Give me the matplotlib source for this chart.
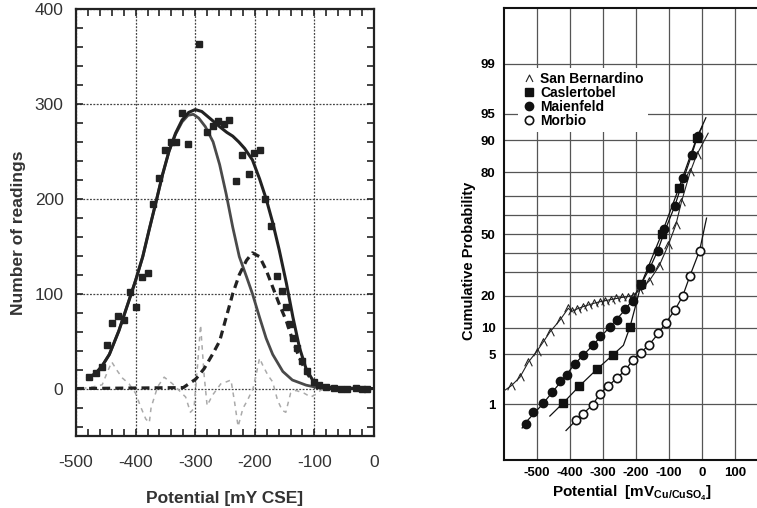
from statistics import NormalDist

import numpy as np
import matplotlib
matplotlib.use("Agg")
import matplotlib.pyplot as plt
from matplotlib.lines import Line2D
from matplotlib.path import Path
from matplotlib.ticker import MultipleLocator, NullFormatter

plt.rcParams['font.family'] = ['Liberation Sans', 'DejaVu Sans']
plt.rcParams['axes.unicode_minus'] = False
plt.rcParams['mathtext.fontset'] = 'custom'
plt.rcParams['mathtext.rm'] = 'Liberation Sans:bold'
plt.rcParams['mathtext.it'] = 'Liberation Sans:bold'
plt.rcParams['mathtext.bf'] = 'Liberation Sans:bold'

# ---------------- left panel: histogram of readings ----------------
hist_x = [-478, -467, -456, -448, -440, -430, -420, -409, -400, -390, -380,
          -371, -361, -350, -341, -332, -322, -312, -293, -281, -270, -262,
          -251, -243, -231, -221, -210, -201, -191, -183, -172, -162, -154,
          -148, -141, -136, -130, -121, -112, -100, -92, -81, -67, -56, -45,
          -31, -20, -11]
hist_n = [12, 16, 23, 46, 69, 76, 72, 102, 86, 118, 122,
          194, 222, 251, 260, 260, 290, 258, 363, 270, 277, 282,
          279, 283, 219, 246, 226, 248, 251, 200, 171, 119, 103,
          86, 68, 53, 43, 29, 18, 7, 4, 2, 1, 0, 0,
          1, 0, 0]

total_x = [-480, -467, -456, -444, -428, -411, -400, -388, -377, -366, -355,
           -344, -333, -322, -311, -300, -289, -272, -259, -247, -237, -227,
           -217, -204, -192, -181, -170, -159, -147, -136, -125, -114, -103,
           -92, -70, -40, -3]
total_y = [11, 16, 24, 36, 61, 93, 114, 139, 168, 196, 225,
           250, 269, 283, 291, 294, 292, 283, 276, 270, 266, 260,
           253, 241, 221, 200, 175, 146, 111, 75, 43, 21, 9,
           3.6, 1, 0.3, 0]

peak1_x = [-480, -467, -456, -444, -428, -411, -400, -388, -377, -366, -355,
           -344, -333, -322, -312, -303, -294, -283, -270, -259, -248, -237,
           -226, -214, -204, -192, -181, -170, -153, -137, -114, -92, -60, -3]
peak1_y = [11, 16, 24, 36, 61, 93, 114, 139, 168, 196, 225,
           250, 268, 281, 288, 289, 285, 276, 260, 236, 205, 170,
           139, 118, 100, 75, 53, 36, 18, 9, 3.6, 0.7, 0, 0]

peak2_x = [-500, -320, -299, -285, -271, -259, -248, -237, -226, -214, -204,
           -192, -181, -170, -159, -147, -136, -125, -114, -103, -92, -80, 0]
peak2_y = [0, 1, 10, 21, 36, 50, 75, 100, 120, 135, 143,
           139, 125, 107, 89, 71, 50, 32, 18, 7, 2, 0, 0]

resid_x = [-490, -470, -456, -447, -440, -430, -422, -411, -400, -391, -383,
           -377, -374, -363, -352, -338, -327, -316, -308, -302, -296, -291,
           -285, -280, -271, -257, -248, -240, -234, -228, -220, -212, -203,
           -198, -192, -187, -178, -170, -162, -154, -148, -140, -131, -117,
           -106, -95, -90, -80, 0]
resid_y = [0, 2, 4, 18, 28, 18, 11, 5, -5, -20, -32,
           -36, -20, 2, 12, 5, -2, -9, -25, -21, 25, 67,
           14, -18, -7, 5, 7, 9, -14, -40, -21, -12, 0,
           14, 32, 25, 14, 7, -12, -23, -25, -5, -2, -5,
           -9, -5, -2, 0, 0]

# ---------------- right panel: cumulative probability ----------------
sb_line_x = [-600, -578, -552, -526, -501, -481, -461, -430, -405, -395,
             -378, -361, -344, -327, -310, -293, -276, -259, -242, -225,
             -210, -190, -160, -130, -102, -79, -62, -36, -16, 19]
sb_line_p = [1.6, 1.9, 2.5, 4.0, 5.4, 7.0, 9.0, 12, 15.5, 14.5,
             15.3, 16, 16.6, 17.2, 17.7, 18.1, 18.5, 18.9, 19.3, 19.6,
             20, 22, 26, 33, 44, 55, 67, 80, 86, 91.6]
sb_x = sb_line_x[1:-1]
sb_p = sb_line_p[1:-1]

ca_line_x = [-461, -420, -372, -319, -271, -238, -218, -193, -184, -122, -70,
             -16, 2]
ca_line_p = [0.64, 1.05, 1.87, 3.2, 4.87, 6.4, 10.2, 20, 24.7, 50, 73.5,
             90.5, 93]
ca_x = [-420, -372, -319, -271, -218, -184, -122, -70, -16]
ca_p = [1.05, 1.87, 3.2, 4.87, 10.2, 24.7, 50, 73.5, 90.5]

ma_x = [-534, -511, -483, -455, -430, -410, -385, -360, -331, -309, -279,
        -258, -233, -210, -186, -158, -134, -114, -82, -57, -31, -13]
ma_p = [0.47, 0.74, 1.04, 1.54, 2.2, 2.7, 3.8, 4.95, 6.4, 8.2, 10.2,
        12.1, 15.2, 18.1, 24.3, 32, 41, 52.8, 65, 78, 86, 91]
ma_line_x = [-545, -534, -483, -430, -385, -331, -279, -233, -210, -186,
             -158, -134, -114, -82, -57, -31, -13, 12]
ma_line_p = [0.4, 0.5, 1.0, 2.1, 3.8, 6.4, 10.2, 15.0, 18.5, 24.3,
             32, 41, 51, 65, 77, 86, 91, 94.4]

mo_x = [-382, -360, -331, -309, -284, -258, -233, -210, -186, -160, -132,
        -109, -82, -58, -36, -7]
mo_p = [0.54, 0.70, 0.98, 1.45, 1.87, 2.45, 3.1, 4.2, 5.2, 6.5, 8.7,
        11.3, 14.9, 19.9, 28.5, 41]
mo_line_x = [-412] + mo_x + [14]
mo_line_p = [0.36] + mo_p + [58.6]

prob_major = [1, 5, 10, 20, 50, 80, 90, 95, 99]
prob_minor = [30, 40, 60, 70]

nd = NormalDist()


def prob_fwd(p):
    p = np.clip(np.asarray(p, dtype=float), 1e-4, 100 - 1e-4)
    return np.vectorize(lambda v: nd.inv_cdf(v / 100.0), otypes=[float])(p)


def prob_inv(z):
    z = np.asarray(z, dtype=float)
    return np.vectorize(lambda v: nd.cdf(v) * 100.0, otypes=[float])(z)


fig = plt.figure(figsize=(7.57, 5.08), dpi=100)

# left panel
W, H = 757.0, 508.0
ax1 = fig.add_axes([76 / W, 1 - 436 / H, (374 - 76) / W, (436 - 9) / H])
ax1.set_xlim(-500, 0)
ax1.set_ylim(-50, 400)
ax1.xaxis.set_major_locator(MultipleLocator(100))
ax1.xaxis.set_minor_locator(MultipleLocator(20))
ax1.yaxis.set_major_locator(MultipleLocator(100))
ax1.yaxis.set_minor_locator(MultipleLocator(20))
ax1.tick_params(which='both', direction='in', top=True, right=True,
                length=5, width=1.2, color='#222')
ax1.tick_params(axis='x', pad=14, labelsize=12.5, labelcolor='#333')
ax1.tick_params(axis='y', pad=9, labelsize=12.5, labelcolor='#333')
ax1.grid(True, which='major', ls=(0, (1.5, 1.2)), lw=0.9, color='#444')
for s in ax1.spines.values():
    s.set_linewidth(1.6)
    s.set_color('#222')

ax1.plot(resid_x, resid_y, color='#aaaaaa', lw=1.1, ls=(0, (3, 3)), zorder=2)
ax1.plot(peak1_x, peak1_y, color='#4a4a4a', lw=2.0, zorder=3)
ax1.plot(peak2_x, peak2_y, color='#222222', lw=2.3, ls=(0, (2.5, 1.6)), zorder=3)
ax1.plot(total_x, total_y, color='#222222', lw=2.2, zorder=4)
ax1.plot(hist_x, hist_n, ls='none', marker='s', ms=3.8, color='#222222', zorder=5)

ax1.set_xlabel('Potential [mY CSE]', fontsize=12.5, fontweight='bold', color='#333')
ax1.set_ylabel('Number of readings', fontsize=12.5, fontweight='bold', color='#333')
ax1.xaxis.set_label_coords(0.5, -0.128)
ax1.yaxis.set_label_coords(-0.168, 0.475)

# right panel
ax2 = fig.add_axes([504 / W, 1 - 460 / H, 1 - 504 / W, (460 - 8) / H])
ax2.set_yscale('function', functions=(prob_fwd, prob_inv))
ax2.set_xlim(-600, 167)
ax2.set_ylim(0.1, 99.9)
ax2.set_xticks([-500, -400, -300, -200, -100, 0, 100])
ax2.set_yticks(prob_major)
ax2.set_yticklabels([str(v) for v in prob_major])
ax2.set_yticks(prob_minor, minor=True)
ax2.yaxis.set_minor_formatter(NullFormatter())
ax2.tick_params(which='both', length=0)
ax2.tick_params(axis='x', pad=5, labelsize=9.5)
ax2.tick_params(axis='y', pad=6, labelsize=9.5)
for lab in ax2.get_xticklabels() + ax2.get_yticklabels():
    lab.set_fontweight('bold')
ax2.grid(True, which='both', color='#555', lw=0.9)
ax2.spines['right'].set_visible(False)
for k in ('left', 'top', 'bottom'):
    ax2.spines[k].set_linewidth(1.5)
    ax2.spines[k].set_color('#111')

caret = Path([(-1, -1), (0, 1), (1, -1)],
             [Path.MOVETO, Path.LINETO, Path.LINETO])

ax2.plot(sb_line_x, sb_line_p, color='#222', lw=0.8, zorder=3)
ax2.plot(sb_x, sb_p, ls='none', marker=caret, ms=5.5, mfc='none', mec='#222',
         mew=0.8, zorder=4)
ax2.plot(ca_line_x, ca_line_p, color='#111', lw=0.9, zorder=3)
ax2.plot(ca_x, ca_p, ls='none', marker='s', ms=5.5, color='#111', zorder=4)
ax2.plot(ma_line_x, ma_line_p, color='#111', lw=0.9, zorder=3)
ax2.plot(ma_x, ma_p, ls='none', marker='o', ms=6, color='#111', zorder=4)
ax2.plot(mo_line_x, mo_line_p, color='#111', lw=0.9, zorder=3)
ax2.plot(mo_x, mo_p, ls='none', marker='o', ms=6, mfc='white', mec='#111',
         mew=1.2, zorder=4)

handles = [
    Line2D([], [], ls='none', marker=caret, ms=5, mfc='none', mec='#222', mew=0.8),
    Line2D([], [], ls='none', marker='s', ms=5.5, color='#111'),
    Line2D([], [], ls='none', marker='o', ms=6, color='#111'),
    Line2D([], [], ls='none', marker='o', ms=6, mfc='white', mec='#111', mew=1.2),
]
labels = ['San Bernardino', 'Caslertobel', 'Maienfeld', 'Morbio']
leg = ax2.legend(handles, labels, loc='upper left',
                 bbox_to_anchor=((518 - 504) / 253.0, (460 - 68) / 452.0),
                 frameon=True, facecolor='white', edgecolor='none',
                 framealpha=1, fancybox=False, borderpad=0.3,
                 borderaxespad=0, handlelength=1.0, handletextpad=0.3,
                 labelspacing=0.0, prop={'weight': 'bold', 'size': 10})
leg.set_zorder(6)

ax2.set_xlabel('Potential  [mV$_{Cu/CuSO_4}$]', fontsize=11, fontweight='bold')
ax2.set_ylabel('Cumulative Probability', fontsize=10.5, fontweight='bold')
ax2.xaxis.set_label_coords(0.506, -0.053)
ax2.yaxis.set_label_coords(-0.111, 0.44)

fig.savefig('out.png', dpi=100)
